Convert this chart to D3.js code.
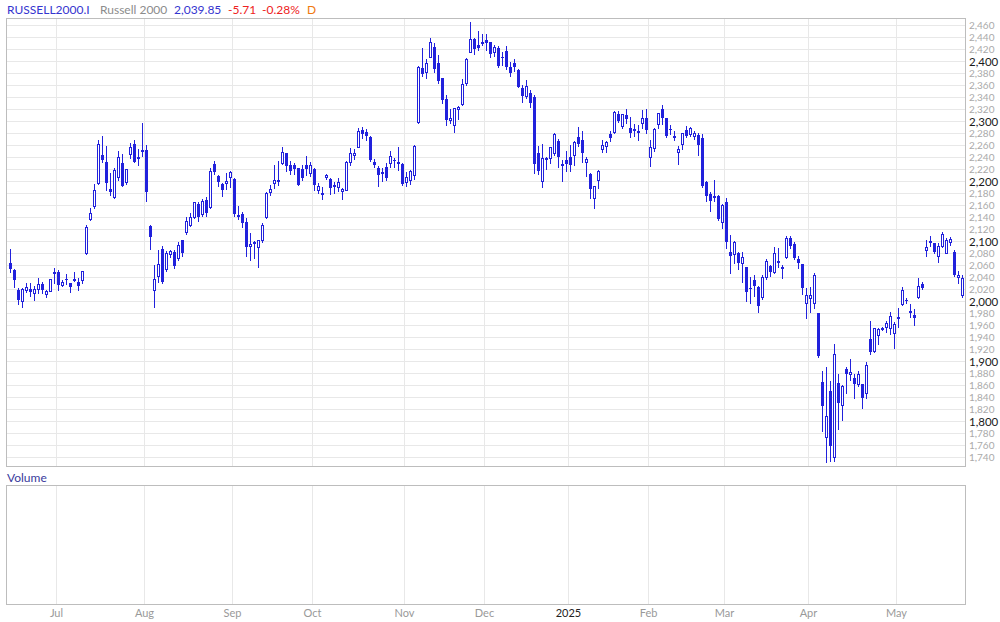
<!DOCTYPE html>
<html><head><meta charset="utf-8">
<script src="https://cdn.jsdelivr.net/npm/d3@7"></script>
<style>body{margin:0;background:#fff}svg{display:block;font-family:Lato,'Open Sans',sans-serif}</style>
</head><body><svg id="c" width="1000" height="622"></svg>
<script>
const symbol = "RUSSELL2000.I", indexName = "Russell 2000", period = "D";
const dates = [
"2024-06-12","2024-06-13","2024-06-14","2024-06-17","2024-06-18","2024-06-20","2024-06-21","2024-06-24","2024-06-25","2024-06-26","2024-06-27","2024-06-28",
"2024-07-01","2024-07-02","2024-07-03","2024-07-05","2024-07-08","2024-07-09","2024-07-10","2024-07-11","2024-07-12","2024-07-15","2024-07-16","2024-07-17","2024-07-18","2024-07-19","2024-07-22","2024-07-23","2024-07-24","2024-07-25","2024-07-26","2024-07-29","2024-07-30","2024-07-31",
"2024-08-01","2024-08-02","2024-08-05","2024-08-06","2024-08-07","2024-08-08","2024-08-09","2024-08-12","2024-08-13","2024-08-14","2024-08-15","2024-08-16","2024-08-19","2024-08-20","2024-08-21","2024-08-22","2024-08-23","2024-08-26","2024-08-27","2024-08-28","2024-08-29","2024-08-30",
"2024-09-03","2024-09-04","2024-09-05","2024-09-06","2024-09-09","2024-09-10","2024-09-11","2024-09-12","2024-09-13","2024-09-16","2024-09-17","2024-09-18","2024-09-19","2024-09-20","2024-09-23","2024-09-24","2024-09-25","2024-09-26","2024-09-27","2024-09-30",
"2024-10-01","2024-10-02","2024-10-03","2024-10-04","2024-10-07","2024-10-08","2024-10-09","2024-10-10","2024-10-11","2024-10-14","2024-10-15","2024-10-16","2024-10-17","2024-10-18","2024-10-21","2024-10-22","2024-10-23","2024-10-24","2024-10-25","2024-10-28","2024-10-29","2024-10-30","2024-10-31",
"2024-11-01","2024-11-04","2024-11-05","2024-11-06","2024-11-07","2024-11-08","2024-11-11","2024-11-12","2024-11-13","2024-11-14","2024-11-15","2024-11-18","2024-11-19","2024-11-20","2024-11-21","2024-11-22","2024-11-25","2024-11-26","2024-11-27","2024-11-29",
"2024-12-02","2024-12-03","2024-12-04","2024-12-05","2024-12-06","2024-12-09","2024-12-10","2024-12-11","2024-12-12","2024-12-13","2024-12-16","2024-12-17","2024-12-18","2024-12-19","2024-12-20","2024-12-23","2024-12-24","2024-12-26","2024-12-27","2024-12-30","2024-12-31",
"2025-01-02","2025-01-03","2025-01-06","2025-01-07","2025-01-08","2025-01-10","2025-01-13","2025-01-14","2025-01-15","2025-01-16","2025-01-17","2025-01-21","2025-01-22","2025-01-23","2025-01-24","2025-01-27","2025-01-28","2025-01-29","2025-01-30","2025-01-31",
"2025-02-03","2025-02-04","2025-02-05","2025-02-06","2025-02-07","2025-02-10","2025-02-11","2025-02-12","2025-02-13","2025-02-14","2025-02-18","2025-02-19","2025-02-20","2025-02-21","2025-02-24","2025-02-25","2025-02-26","2025-02-27","2025-02-28",
"2025-03-03","2025-03-04","2025-03-05","2025-03-06","2025-03-07","2025-03-10","2025-03-11","2025-03-12","2025-03-13","2025-03-14","2025-03-17","2025-03-18","2025-03-19","2025-03-20","2025-03-21","2025-03-24","2025-03-25","2025-03-26","2025-03-27","2025-03-28","2025-03-31",
"2025-04-01","2025-04-02","2025-04-03","2025-04-04","2025-04-07","2025-04-08","2025-04-09","2025-04-10","2025-04-11","2025-04-14","2025-04-15","2025-04-16","2025-04-17","2025-04-18","2025-04-21","2025-04-22","2025-04-23","2025-04-24","2025-04-25","2025-04-28","2025-04-29","2025-04-30",
"2025-05-01","2025-05-02","2025-05-05","2025-05-06","2025-05-07","2025-05-08","2025-05-09","2025-05-12","2025-05-13","2025-05-14","2025-05-15","2025-05-16","2025-05-19","2025-05-20","2025-05-21","2025-05-22","2025-05-23"];
const open = [
2065,2053,2020,2001,2020,2021,2015,2022,2030,2013,2019,2050,
2050,2029,2039,2031,2036,2034,2036,2081,2138,2160,2198,2245,2233,2188,2175,2209,2231,2200,2246,2264,2240,2252,
2253,2127,2020,2044,2088,2055,2080,2084,2073,2103,2116,2128,2142,2163,2146,2170,2159,2230,2210,2197,2198,2208,
2205,2145,2147,2133,2093,2100,2091,2104,2142,2184,2198,2203,2231,2248,2229,2228,2223,2222,2228,2215,
2222,2187,2181,2209,2205,2195,2192,2185,2187,2233,2245,2259,2287,2283,2275,2234,2223,2216,2225,2231,2236,2233,2230,
2200,2204,2212,2300,2390,2383,2409,2425,2398,2373,2338,2304,2295,2321,2330,2365,2417,2438,2428,2433,
2437,2433,2417,2423,2409,2418,2392,2398,2387,2357,2343,2349,2341,2249,2202,2240,2240,2248,2268,2230,2237,
2242,2245,2275,2270,2234,2214,2174,2203,2255,2260,2280,2284,2314,2294,2311,2290,2288,2285,2298,2306,
2242,2256,2296,2321,2306,2289,2277,2250,2263,2287,2280,2276,2279,2274,2200,2180,2176,2176,2134,
2167,2084,2080,2081,2065,2058,2024,2037,2025,2008,2041,2060,2050,2068,2057,2075,2107,2096,2072,2063,1998,
2006,1998,1981,1867,1775,1852,1742,1865,1828,1889,1880,1873,1863,1863,1848,1938,1918,1945,1956,1959,1957,1949,
1974,1996,2004,1985,1978,2009,2030,2086,2101,2098,2076,2094,2082,2100,2083,2041,2012];
const high = [
2088,2055,2024,2024,2032,2032,2026,2040,2033,2020,2038,2057,
2053,2036,2047,2032,2050,2040,2051,2128,2157,2197,2270,2277,2260,2215,2223,2252,2246,2222,2265,2270,2255,2298,
2262,2128,2062,2087,2093,2085,2087,2087,2100,2104,2142,2149,2167,2167,2172,2175,2223,2235,2212,2198,2215,2218,
2206,2160,2150,2140,2115,2101,2104,2132,2183,2195,2228,2235,2259,2248,2235,2231,2224,2228,2244,2233,
2223,2199,2192,2214,2206,2200,2206,2190,2235,2256,2255,2290,2291,2288,2276,2238,2226,2224,2232,2252,2240,2258,2232,
2217,2220,2262,2394,2424,2405,2440,2432,2412,2374,2345,2322,2324,2326,2372,2407,2466,2440,2452,2447,
2446,2434,2428,2427,2416,2426,2400,2405,2388,2362,2370,2353,2345,2260,2263,2242,2259,2282,2271,2237,2251,
2262,2268,2292,2285,2242,2215,2193,2220,2270,2268,2285,2318,2318,2313,2322,2308,2297,2295,2320,2322,
2270,2290,2315,2328,2307,2295,2285,2260,2282,2294,2292,2285,2281,2280,2202,2183,2204,2178,2163,
2174,2112,2102,2083,2083,2059,2042,2045,2026,2045,2071,2062,2092,2090,2062,2110,2110,2100,2076,2064,2023,
2025,2048,1982,1885,1891,1868,1930,1880,1862,1892,1905,1880,1885,1864,1900,1968,1957,1957,1958,1969,1983,1966,
1990,2025,2006,1997,1989,2040,2034,2103,2110,2098,2098,2116,2106,2109,2087,2051,2045];
const low = [
2050,2025,1997,1992,2017,2010,2004,2015,2015,2009,2018,2032,
2020,2026,2030,2017,2035,2020,2031,2080,2137,2157,2196,2234,2187,2178,2173,2204,2193,2196,2240,2234,2228,2243,
2169,2089,1992,2034,2032,2052,2075,2057,2070,2077,2113,2126,2140,2135,2143,2143,2157,2213,2194,2177,2188,2192,
2143,2138,2125,2077,2070,2073,2059,2100,2140,2178,2190,2195,2230,2218,2213,2213,2195,2203,2212,2210,
2187,2182,2171,2205,2180,2182,2185,2172,2186,2228,2238,2258,2273,2270,2235,2225,2193,2201,2203,2225,2225,2220,2195,
2193,2197,2205,2299,2376,2373,2408,2383,2365,2332,2295,2298,2283,2305,2328,2362,2416,2413,2420,2428,
2420,2408,2410,2392,2395,2388,2376,2385,2358,2334,2340,2325,2215,2213,2192,2222,2232,2245,2225,2201,2218,
2218,2228,2260,2234,2210,2174,2157,2190,2250,2250,2268,2282,2300,2290,2298,2275,2276,2270,2290,2282,
2227,2252,2290,2297,2275,2280,2270,2230,2255,2275,2276,2272,2245,2192,2168,2152,2168,2137,2124,
2090,2048,2065,2055,2034,2002,1999,2010,1984,2005,2038,2043,2048,2058,2040,2074,2090,2072,2057,2013,1973,
1984,1990,1909,1785,1733,1735,1735,1788,1803,1848,1870,1840,1860,1823,1840,1914,1917,1930,1954,1950,1947,1924,
1959,1995,1998,1975,1962,2007,2022,2076,2094,2081,2067,2092,2082,2095,2044,2031,2009];
const close = [
2055,2037,2003,2021,2025,2016,2021,2030,2020,2018,2038,2046,
2029,2034,2036,2025,2038,2027,2051,2125,2148,2187,2263,2237,2198,2183,2220,2241,2194,2221,2259,2234,2242,2254,
2184,2109,2038,2063,2034,2082,2085,2060,2095,2082,2135,2142,2166,2142,2169,2149,2218,2216,2200,2187,2202,2217,
2147,2142,2131,2091,2097,2096,2103,2128,2182,2189,2203,2204,2250,2226,2218,2222,2195,2207,2222,2228,
2195,2194,2178,2212,2190,2191,2200,2188,2233,2248,2248,2285,2280,2276,2237,2228,2212,2217,2206,2243,2236,2234,2196,
2209,2218,2260,2392,2380,2398,2433,2389,2368,2337,2303,2306,2323,2325,2363,2405,2439,2421,2423,2430,
2432,2414,2425,2394,2406,2391,2381,2392,2359,2344,2360,2331,2230,2218,2240,2236,2258,2280,2242,2226,2230,
2229,2267,2263,2248,2238,2188,2193,2218,2262,2266,2274,2316,2302,2313,2305,2282,2285,2281,2306,2287,
2258,2289,2315,2306,2277,2286,2274,2255,2281,2277,2290,2281,2261,2193,2177,2168,2173,2138,2162,
2100,2077,2100,2065,2075,2017,2021,2026,1993,2042,2068,2050,2081,2069,2058,2107,2094,2073,2065,2023,2012,
2012,2045,1910,1827,1810,1760,1913,1831,1860,1880,1883,1863,1880,1840,1895,1916,1956,1955,1957,1965,1977,1963,
1975,2020,2002,1982,1974,2026,2023,2092,2102,2083,2094,2113,2103,2105,2045,2045.56,2039.85];
const yTicks = [1740,1760,1780,1800,1820,1840,1860,1880,1900,1920,1940,1960,1980,2000,2020,2040,2060,2080,2100,2120,2140,2160,2180,2200,2220,2240,2260,2280,2300,2320,2340,2360,2380,2400,2420,2440,2460];
const monthStarts = ["2024-07-01","2024-08-01","2024-09-03","2024-10-01","2024-11-01","2024-12-02","2025-01-02","2025-02-03","2025-03-03","2025-04-01","2025-05-01"];
const monthLabels = ["Jul","Aug","Sep","Oct","Nov","Dec","2025","Feb","Mar","Apr","May"];

const loc = d3.formatLocale({decimal: ".", thousands: ",", grouping: [3], currency: ["$", ""], minus: "-"});
const svg = d3.select("#c");
const BLUE = "#2121dc", GRID = "#e8e8e8", FRAME = "#bdbdbd";
const P = {l:6.5, r:965.5, t:18.5, b:466.5};
const V = {t:485.5, b:604.5};
const x = d3.scalePoint().domain(dates).range([10.3, 962.3]);
const y = d3.scaleLinear().domain([1725.83, 2472.5]).range([466.5, 18.5]);

// horizontal gridlines
svg.append("g").selectAll("line").data(yTicks).join("line")
  .attr("x1", P.l).attr("x2", P.r)
  .attr("y1", d => Math.floor(y(d)) + 0.5).attr("y2", d => Math.floor(y(d)) + 0.5)
  .attr("stroke", GRID).attr("stroke-width", 1);

// vertical month gridlines (both panels)
const mx = d => Math.floor(x(d) - 2) + 0.5;
[[P.t, P.b], [V.t, V.b]].forEach(([t, b]) => {
  svg.append("g").selectAll("line").data(monthStarts).join("line")
    .attr("x1", mx).attr("x2", mx).attr("y1", t).attr("y2", b)
    .attr("stroke", GRID).attr("stroke-width", 1);
});

// frames
svg.append("rect").attr("x", P.l).attr("y", P.t).attr("width", P.r - P.l).attr("height", P.b - P.t)
  .attr("fill", "none").attr("stroke", FRAME);
svg.append("rect").attr("x", P.l).attr("y", V.t).attr("width", P.r - P.l).attr("height", V.b - V.t)
  .attr("fill", "none").attr("stroke", FRAME);

// y labels
svg.append("g").selectAll("text").data(yTicks).join("text")
  .attr("x", 969).attr("y", d => Math.floor(y(d)) + 0.5).attr("dy", "0.35em")
  .attr("font-size", d => d % 100 === 0 ? 11.5 : 10)
  .attr("fill", d => d % 100 === 0 ? "#1a1a1a" : "#aaaaaa")
  .text(d => loc.format(",")(d));

// month labels
svg.append("g").selectAll("text").data(monthStarts).join("text")
  .attr("x", d => mx(d)).attr("y", 613).attr("dy", "0.35em").attr("text-anchor", "middle")
  .attr("font-size", 11).attr("fill", (d, i) => monthLabels[i] === "2025" ? "#222" : "#999")
  .text((d, i) => monthLabels[i]);

// candles
const data = dates.map((d, i) => ({d, o: open[i], h: high[i], l: low[i], c: close[i]}));
const cg = svg.append("g").selectAll("g").data(data).join("g");
cg.append("line")
  .attr("x1", k => Math.floor(x(k.d)) + 0.5).attr("x2", k => Math.floor(x(k.d)) + 0.5)
  .attr("y1", k => Math.round(y(Math.max(k.h, k.o, k.c))))
  .attr("y2", k => Math.round(y(Math.min(k.l, k.o, k.c))) + 1)
  .attr("stroke", BLUE).attr("stroke-width", 1);
cg.append("rect")
  .each(function(k) {
    const cx = Math.floor(x(k.d));
    const yt = Math.round(y(Math.max(k.o, k.c))), yb = Math.round(y(Math.min(k.o, k.c)));
    const r = d3.select(this);
    if (k.c > k.o && yb - yt >= 2) {
      r.attr("x", cx - 0.5).attr("y", yt + 0.5).attr("width", 2).attr("height", yb - yt)
       .attr("fill", "#fff").attr("stroke", BLUE).attr("stroke-width", 1);
    } else {
      r.attr("x", cx - 1).attr("y", yt).attr("width", 3).attr("height", Math.max(yb - yt, 1) + (k.c > k.o ? 1 : 0))
       .attr("fill", BLUE);
    }
  });

// header
const last = close[close.length - 1], prev = close[close.length - 2];
const chg = last - prev, pct = chg / prev * 100;
const hdr = svg.append("text").attr("y", 14).attr("font-size", 12);
[[symbol, "#3535cf", 7], [indexName, "#8c8c8c", 100], [loc.format(",.2f")(last), "#3535cf", 174],
 [loc.format(".2f")(chg), "#ee2222", 228], [loc.format(".2f")(pct) + "%", "#ee2222", 262], [period, "#f07a10", 307]]
 .forEach(([t, c, xx]) => hdr.append("tspan").attr("x", xx).attr("fill", c).text(t));

svg.append("text").attr("x", 7).attr("y", 477.5).attr("dy", "0.35em").attr("font-size", 12)
  .attr("fill", "#3a3a9c").text("Volume");
</script></body></html>
